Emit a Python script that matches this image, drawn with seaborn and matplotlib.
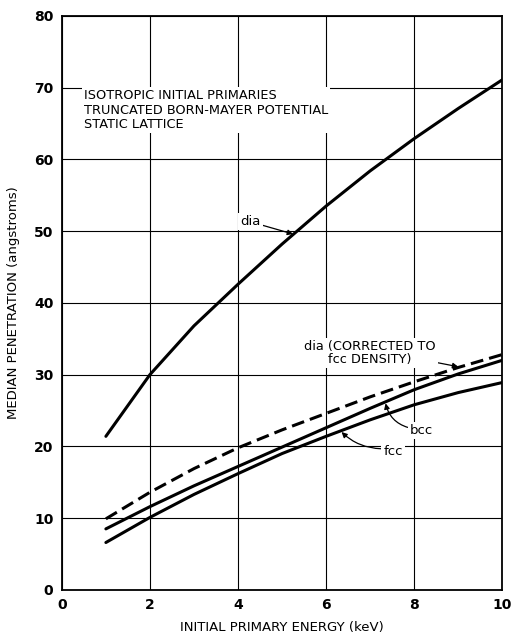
import numpy as np
import pandas as pd
import matplotlib
matplotlib.use("Agg")
import matplotlib.pyplot as plt
import seaborn as sns

# ---- data ----
energy_kev = [1, 2, 3, 4, 5, 6, 7, 8, 9, 10]
dia = [21.4, 30.0, 36.8, 42.6, 48.2, 53.5, 58.4, 62.9, 67.1, 71.1]
dia_corrected = [9.9, 13.6, 16.9, 19.8, 22.3, 24.6, 26.9, 29.0, 31.0, 32.8]
bcc = [8.5, 11.6, 14.5, 17.2, 19.9, 22.6, 25.3, 27.9, 30.1, 32.0]
fcc = [6.6, 10.1, 13.3, 16.2, 19.0, 21.4, 23.7, 25.8, 27.5, 28.9]

x_ticks = [0, 2, 4, 6, 8, 10]
y_ticks = [0, 10, 20, 30, 40, 50, 60, 70, 80]

df = pd.DataFrame({"energy": energy_kev * 4,
                   "pen": dia + dia_corrected + bcc + fcc,
                   "series": ["dia"] * 10 + ["dia_corr"] * 10 + ["bcc"] * 10 + ["fcc"] * 10})

sns.set_style("white")
plt.rcParams["font.family"] = ["DejaVu Sans"]
plt.rcParams["text.color"] = "black"
plt.rcParams["axes.labelcolor"] = "black"
plt.rcParams["xtick.color"] = "black"
plt.rcParams["ytick.color"] = "black"

fig = plt.figure(figsize=(5.11, 6.37), dpi=100)
ax = fig.add_axes([0.121, 0.074, 0.862, 0.901])

ax.grid(True, color="black", linewidth=0.8)
ax.set_axisbelow(True)

for name, dash in [("dia", None), ("dia_corr", (4.2, 2.0)), ("bcc", None), ("fcc", None)]:
    sub = df[df["series"] == name]
    sns.lineplot(data=sub, x="energy", y="pen", ax=ax, color="black", linewidth=2.2,
                 estimator=None, sort=True, legend=False)
    if dash is not None:
        ax.lines[-1].set_dashes(dash)

ax.set_xlim(0, 10)
ax.set_ylim(0, 80)
ax.set_xticks(x_ticks)
ax.set_yticks(y_ticks)
ax.set_xticklabels([str(v) for v in x_ticks], fontsize=10, fontweight="bold")
ax.set_yticklabels([str(v) for v in y_ticks], fontsize=10, fontweight="bold")
ax.tick_params(length=0, pad=6)
for s in ax.spines.values():
    s.set_color("black")
    s.set_linewidth(1.3)

ax.set_xlabel("INITIAL PRIMARY ENERGY (keV)", fontsize=9.5, labelpad=6)
ax.set_ylabel("MEDIAN PENETRATION (angstroms)", fontsize=9.5, labelpad=10)

bbox = dict(facecolor="white", edgecolor="none", pad=1.5)
ax.text(0.5, 69.8, "ISOTROPIC INITIAL PRIMARIES\nTRUNCATED BORN-MAYER POTENTIAL\nSTATIC LATTICE",
        fontsize=9.3, va="top", ha="left", linespacing=1.15, bbox=bbox)

ax.annotate("dia", xy=(5.25, 49.6), xytext=(4.05, 51.3), fontsize=9.5, va="center", ha="left",
            bbox=bbox,
            arrowprops=dict(arrowstyle="-|>", color="black", lw=0.9, shrinkA=0, shrinkB=0,
                            mutation_scale=8))
ax.annotate("dia (CORRECTED TO\nfcc DENSITY)", xy=(9.0, 31.1), xytext=(7.0, 33.0),
            fontsize=9.3, va="center", ha="center", linespacing=1.05, bbox=bbox,
            arrowprops=dict(arrowstyle="-|>", color="black", lw=0.9, shrinkA=0, shrinkB=0,
                            mutation_scale=8, relpos=(1.0, 0.15)))
ax.annotate("bcc", xy=(7.35, 26.0), xytext=(7.9, 22.2), fontsize=9.5, va="center", ha="left",
            bbox=bbox,
            arrowprops=dict(arrowstyle="-|>", color="black", lw=0.9, shrinkA=0, shrinkB=0,
                            mutation_scale=8, relpos=(0.0, 0.7),
                            connectionstyle="arc3,rad=-0.3"))
ax.annotate("fcc", xy=(6.35, 22.0), xytext=(7.3, 19.3), fontsize=9.5, va="center", ha="left",
            bbox=bbox,
            arrowprops=dict(arrowstyle="-|>", color="black", lw=0.9, shrinkA=0, shrinkB=0,
                            mutation_scale=8, relpos=(0.0, 0.7),
                            connectionstyle="arc3,rad=-0.2"))

fig.savefig("out.png", dpi=100, facecolor="white")
